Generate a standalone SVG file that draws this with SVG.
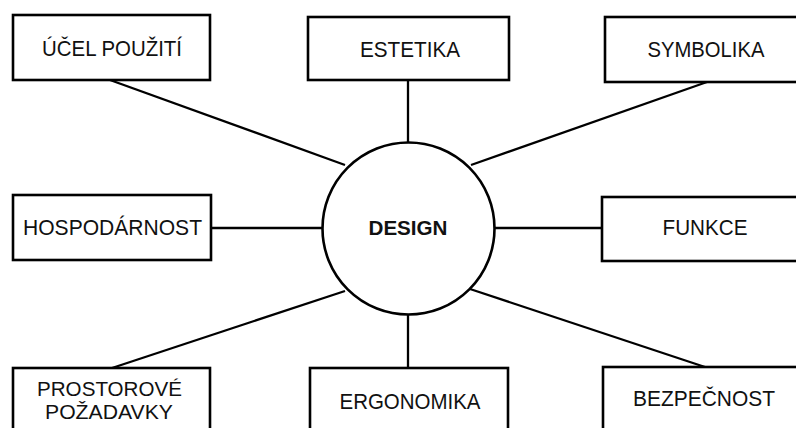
<svg xmlns="http://www.w3.org/2000/svg" width="796" height="428" viewBox="0 0 796 428">
<style>
.box{fill:#fff;stroke:#000;stroke-width:2.6}
.lbl{font-family:"Liberation Sans",Arial,sans-serif;font-size:22px;fill:#111;text-anchor:middle}
.ctr{font-weight:bold;font-size:20px}
.two{font-size:20px}
.con line{stroke:#000;stroke-width:2.3}
</style>
<rect width="796" height="428" fill="#fff"/>
<g id="connectors" class="con">
<line x1="110" y1="80" x2="345" y2="165"/>
<line x1="408" y1="80" x2="408" y2="143"/>
<line x1="707" y1="82" x2="471" y2="165"/>
<line x1="211" y1="228" x2="322" y2="228"/>
<line x1="495" y1="228" x2="602" y2="228"/>
<line x1="112" y1="368" x2="345" y2="291"/>
<line x1="408" y1="314" x2="408" y2="368"/>
<line x1="470" y1="289" x2="705" y2="367"/>
</g>
<g id="design">
<circle class="box" cx="408.5" cy="228.5" r="86"/>
<text class="lbl ctr" x="408" y="235" textLength="79" lengthAdjust="spacingAndGlyphs">DESIGN</text>
</g>
<g id="ucel">
<rect class="box" x="13" y="15" width="197" height="65"/>
<text class="lbl" x="112" y="56" textLength="140" lengthAdjust="spacingAndGlyphs">ÚČEL POUŽITÍ</text>
</g>
<g id="estetika">
<rect class="box" x="308" y="17" width="201" height="63"/>
<text class="lbl" x="410" y="57" textLength="100" lengthAdjust="spacingAndGlyphs">ESTETIKA</text>
</g>
<g id="symbolika">
<rect class="box" x="605" y="17" width="200" height="65"/>
<text class="lbl" x="706" y="57" textLength="117" lengthAdjust="spacingAndGlyphs">SYMBOLIKA</text>
</g>
<g id="hospodarnost">
<rect class="box" x="13" y="195" width="198" height="65"/>
<text class="lbl" x="112.5" y="235" textLength="179" lengthAdjust="spacingAndGlyphs">HOSPODÁRNOST</text>
</g>
<g id="funkce">
<rect class="box" x="602" y="197" width="203" height="64"/>
<text class="lbl" x="705" y="235" textLength="85" lengthAdjust="spacingAndGlyphs">FUNKCE</text>
</g>
<g id="prostorove">
<rect class="box" x="13" y="368" width="197" height="72"/>
<text class="lbl two" x="109.5" y="396" textLength="145" lengthAdjust="spacingAndGlyphs">PROSTOROVÉ</text>
<text class="lbl two" x="109" y="419" textLength="128" lengthAdjust="spacingAndGlyphs">POŽADAVKY</text>
</g>
<g id="ergonomika">
<rect class="box" x="310" y="368" width="198" height="72"/>
<text class="lbl" x="410" y="409" textLength="141" lengthAdjust="spacingAndGlyphs">ERGONOMIKA</text>
</g>
<g id="bezpecnost">
<rect class="box" x="603" y="367" width="202" height="73"/>
<text class="lbl" x="704" y="406" textLength="142" lengthAdjust="spacingAndGlyphs">BEZPEČNOST</text>
</g>
</svg>
